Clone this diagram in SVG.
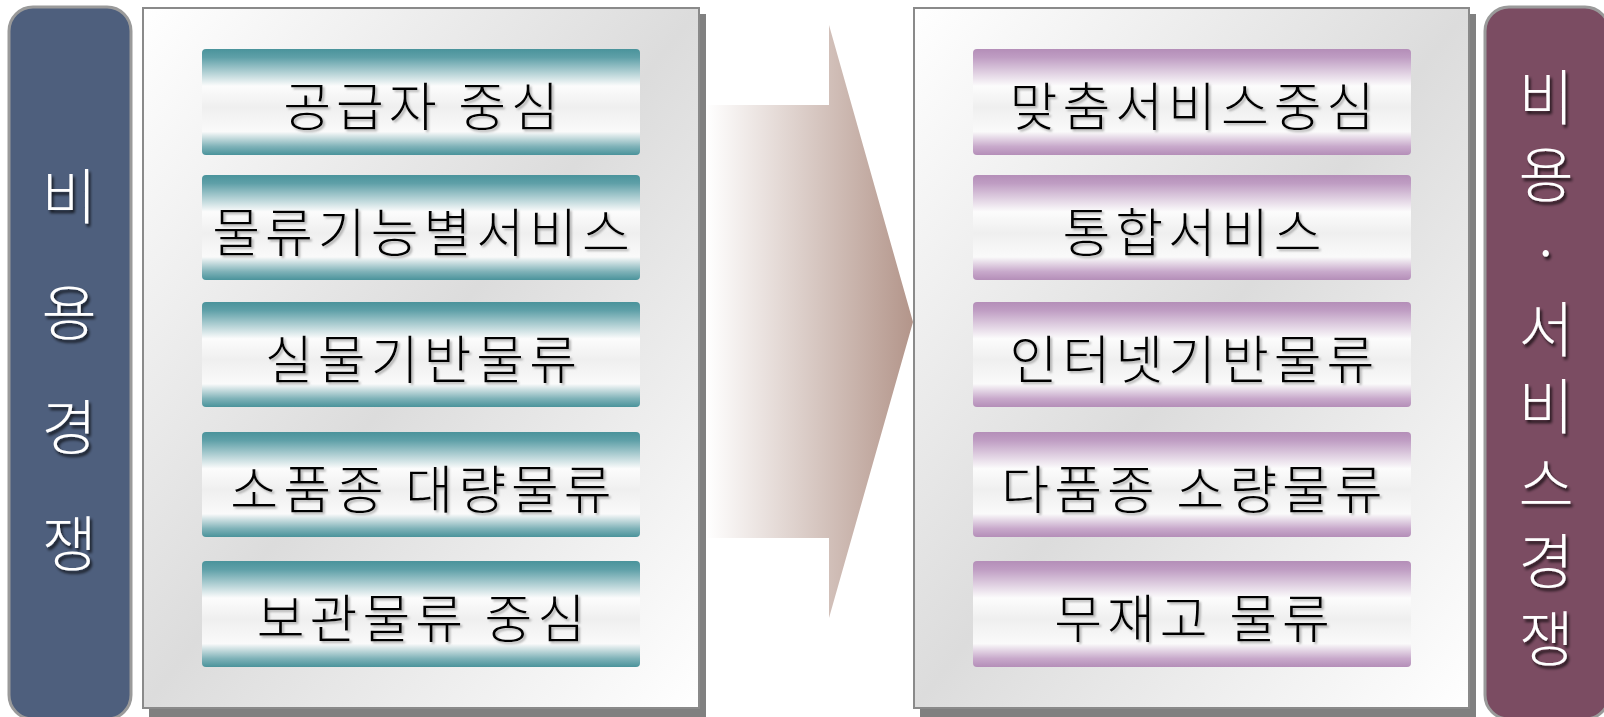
<svg xmlns="http://www.w3.org/2000/svg" width="1604" height="717" viewBox="0 0 1604 717">
<defs>
  <linearGradient id="panelGrad" x1="0" y1="0" x2="1" y2="1">
    <stop offset="0" stop-color="#ffffff"/>
    <stop offset="0.5" stop-color="#dcdcdc"/>
    <stop offset="1" stop-color="#ffffff"/>
  </linearGradient>
  <linearGradient id="tealGrad" x1="0" y1="0" x2="0" y2="1">
    <stop offset="0" stop-color="#4a939b"/>
    <stop offset="0.08" stop-color="#5fa0a8"/>
    <stop offset="0.35" stop-color="#fcfcfc"/>
    <stop offset="0.55" stop-color="#efefef"/>
    <stop offset="0.78" stop-color="#fafafa"/>
    <stop offset="0.92" stop-color="#7fb2b8"/>
    <stop offset="1" stop-color="#4a939b"/>
  </linearGradient>
  <linearGradient id="purpleGrad" x1="0" y1="0" x2="0" y2="1">
    <stop offset="0" stop-color="#b48eb8"/>
    <stop offset="0.08" stop-color="#bf9dc3"/>
    <stop offset="0.35" stop-color="#fcfcfc"/>
    <stop offset="0.55" stop-color="#efefef"/>
    <stop offset="0.78" stop-color="#fafafa"/>
    <stop offset="0.92" stop-color="#c8a9cb"/>
    <stop offset="1" stop-color="#b48eb8"/>
  </linearGradient>
  <linearGradient id="arrowGrad" gradientUnits="userSpaceOnUse" x1="706" y1="0" x2="913" y2="0">
    <stop offset="0" stop-color="#ffffff"/>
    <stop offset="1" stop-color="#b3958a"/>
  </linearGradient>
  <filter id="darkShadow" x="-20%" y="-20%" width="150%" height="150%">
    <feDropShadow dx="2" dy="3" stdDeviation="1.5" flood-color="#000000" flood-opacity="0.75"/>
  </filter>
  <filter id="lightShadow" x="-10%" y="-20%" width="120%" height="150%">
    <feDropShadow dx="2" dy="2" stdDeviation="1.2" flood-color="#7a7a7a" flood-opacity="0.55"/>
  </filter>
</defs>
<style>
  .pill-left { fill: #4e5f7d; stroke: #9a9a9a; stroke-width: 3; }
  .pill-right { fill: #7b4c62; stroke: #9a9a9a; stroke-width: 3; }
  .panel { fill: url(#panelGrad); stroke: #8a8a8a; stroke-width: 2; }
  .shadow { fill: #808080; }
  .teal { fill: url(#tealGrad); }
  .purple { fill: url(#purpleGrad); }
  .box-text { font-family: "Noto Sans CJK KR", "Noto Sans", sans-serif; font-size: 52px; font-weight: 300; letter-spacing: 5px; fill: #000000; text-anchor: middle; filter: url(#lightShadow); }
  .pill-text { font-family: "Noto Sans CJK KR", "Noto Sans", sans-serif; font-size: 60px; font-weight: 300; fill: #ffffff; text-anchor: middle; filter: url(#darkShadow); }
</style>

<g id="connectors">
  <polygon id="arrow" points="699,105 829,105 829,25 913,322 829,618 829,538 699,538" fill="url(#arrowGrad)"/>
</g>

<g id="left-pill">
  <rect class="pill-left" x="9" y="7" width="122" height="712" rx="24" ry="24"/>
  <text class="pill-text"><tspan x="69" y="219">비</tspan><tspan x="69" y="335">용</tspan><tspan x="69" y="450">경</tspan><tspan x="69" y="566">쟁</tspan></text>
</g>

<g id="left-panel">
  <rect class="shadow" x="149" y="14" width="557" height="703"/>
  <rect class="panel" x="143" y="8" width="556" height="700"/>
</g>

<g id="left-box-1">
  <rect class="teal" x="202" y="49" width="438" height="106" rx="4"/>
  <text class="box-text" x="423.5" y="126">공급자 중심</text>
</g>
<g id="left-box-2">
  <rect class="teal" x="202" y="175" width="438" height="105" rx="4"/>
  <text class="box-text" x="423.5" y="252">물류기능별서비스</text>
</g>
<g id="left-box-3">
  <rect class="teal" x="202" y="302" width="438" height="105" rx="4"/>
  <text class="box-text" x="423.5" y="379">실물기반물류</text>
</g>
<g id="left-box-4">
  <rect class="teal" x="202" y="432" width="438" height="105" rx="4"/>
  <text class="box-text" x="423.5" y="509">소품종 대량물류</text>
</g>
<g id="left-box-5">
  <rect class="teal" x="202" y="561" width="438" height="106" rx="4"/>
  <text class="box-text" x="423.5" y="638">보관물류 중심</text>
</g>

<g id="right-panel">
  <rect class="shadow" x="920" y="14" width="556" height="703"/>
  <rect class="panel" x="914" y="8" width="555" height="700"/>
</g>

<g id="right-box-1">
  <rect class="purple" x="973" y="49" width="438" height="106" rx="4"/>
  <text class="box-text" x="1194.5" y="126">맞춤서비스중심</text>
</g>
<g id="right-box-2">
  <rect class="purple" x="973" y="175" width="438" height="105" rx="4"/>
  <text class="box-text" x="1194.5" y="252">통합서비스</text>
</g>
<g id="right-box-3">
  <rect class="purple" x="973" y="302" width="438" height="105" rx="4"/>
  <text class="box-text" x="1194.5" y="379">인터넷기반물류</text>
</g>
<g id="right-box-4">
  <rect class="purple" x="973" y="432" width="438" height="105" rx="4"/>
  <text class="box-text" x="1194.5" y="509">다품종 소량물류</text>
</g>
<g id="right-box-5">
  <rect class="purple" x="973" y="561" width="438" height="106" rx="4"/>
  <text class="box-text" x="1194.5" y="638">무재고 물류</text>
</g>

<g id="right-pill">
  <rect class="pill-right" x="1485" y="7" width="124" height="712" rx="24" ry="24"/>
  <text class="pill-text"><tspan x="1546" y="120">비</tspan><tspan x="1546" y="197">용</tspan><tspan x="1546" y="275">·</tspan><tspan x="1546" y="352">서</tspan><tspan x="1546" y="429">비</tspan><tspan x="1546" y="507">스</tspan><tspan x="1546" y="584">경</tspan><tspan x="1546" y="661">쟁</tspan></text>
</g>
</svg>
